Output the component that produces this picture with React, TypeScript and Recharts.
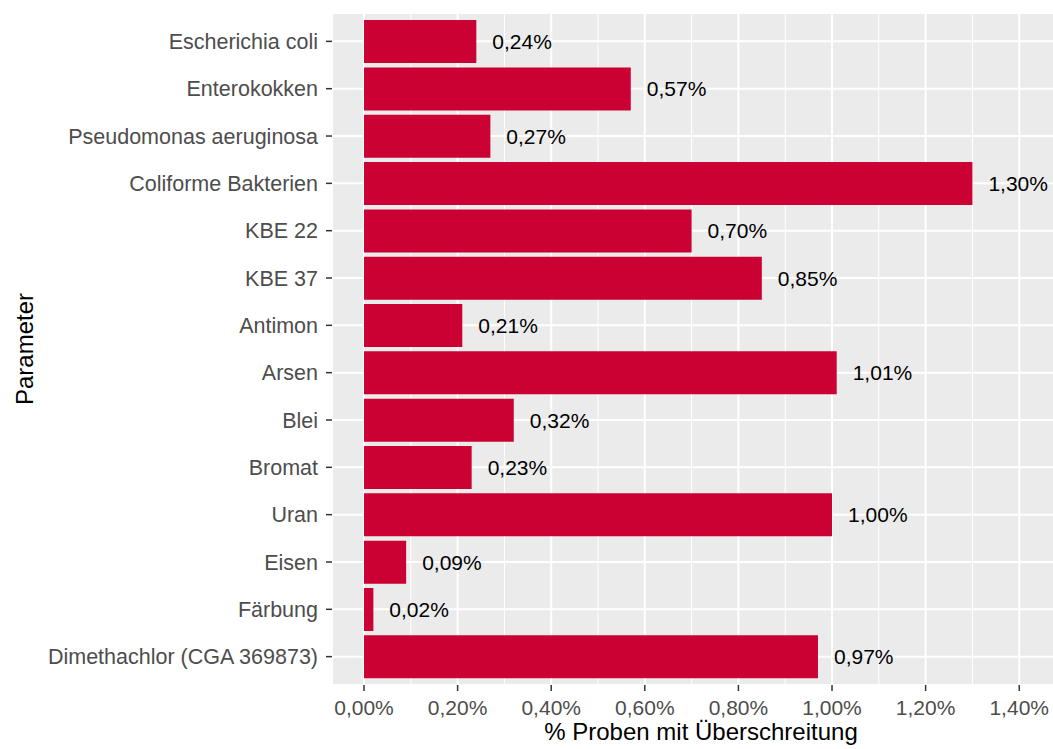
import { Bar, BarChart, CartesianGrid, LabelList, XAxis, YAxis } from "recharts";

const parameters = [
  "Escherichia coli",
  "Enterokokken",
  "Pseudomonas aeruginosa",
  "Coliforme Bakterien",
  "KBE 22",
  "KBE 37",
  "Antimon",
  "Arsen",
  "Blei",
  "Bromat",
  "Uran",
  "Eisen",
  "Färbung",
  "Dimethachlor (CGA 369873)",
];

const exceedPercent = [0.24, 0.57, 0.27, 1.3, 0.7, 0.85, 0.21, 1.01, 0.32, 0.23, 1.0, 0.09, 0.02, 0.97];

const majorTicks = [0, 0.2, 0.4, 0.6, 0.8, 1.0, 1.2, 1.4];
const minorTicks = [0.1, 0.3, 0.5, 0.7, 0.9, 1.1, 1.3, 1.5];

const data = parameters.map((name, i) => ({ name, value: exceedPercent[i] }));

const fmt = (v: number) => `${Number(v).toFixed(2).replace(".", ",")}%`;

const FONT = "'Liberation Sans', Arial, sans-serif";

export default function App() {
  return (
    <div
      style={{
        position: "absolute",
        left: 0,
        top: 0,
        width: 1053,
        height: 749,
        overflow: "hidden",
        background: "#fff",
        fontFamily: FONT,
      }}
    >
      <BarChart
        width={1070}
        height={749}
        data={data}
        layout="vertical"
        margin={{ top: 13, right: 0, bottom: 0, left: 0 }}
        barCategoryGap="5%"
      >
        <CartesianGrid
          fill="#EBEBEB"
          stroke="#ffffff"
          strokeWidth={1}
          horizontal={false}
          verticalValues={minorTicks}
        />
        <CartesianGrid stroke="#ffffff" strokeWidth={2} />
        <XAxis
          type="number"
          domain={[-0.0684, 1.5085]}
          allowDataOverflow
          ticks={majorTicks}
          tickFormatter={fmt}
          height={64}
          axisLine={false}
          tickLine={{ stroke: "#333333", strokeWidth: 1.5 }}
          tickSize={6}
          tickMargin={9}
          tick={{ fill: "#4D4D4D", fontSize: 21, fontFamily: FONT }}
          label={{
            value: "% Proben mit Überschreitung",
            position: "insideBottom",
            offset: 9,
            fill: "#000000",
            fontSize: 24,
            fontFamily: FONT,
          }}
        />
        <YAxis
          type="category"
          dataKey="name"
          width={332}
          padding={{ top: 4.7, bottom: 4.7 }}
          axisLine={false}
          tickLine={{ stroke: "#333333", strokeWidth: 1.5 }}
          tickSize={6}
          tickMargin={8}
          tick={{ fill: "#4D4D4D", fontSize: 21.5, fontFamily: FONT }}
          interval={0}
          label={{
            value: "Parameter",
            angle: -90,
            position: "insideLeft",
            offset: 24,
            fill: "#000000",
            fontSize: 24,
            fontFamily: FONT,
            style: { textAnchor: "middle" },
          }}
        />
        <Bar dataKey="value" fill="#CB0033" isAnimationActive={false}>
          <LabelList
            dataKey="value"
            position="right"
            offset={16}
            formatter={fmt}
            fill="#000000"
            fontSize={21}
            fontFamily={FONT}
          />
        </Bar>
      </BarChart>
    </div>
  );
}
